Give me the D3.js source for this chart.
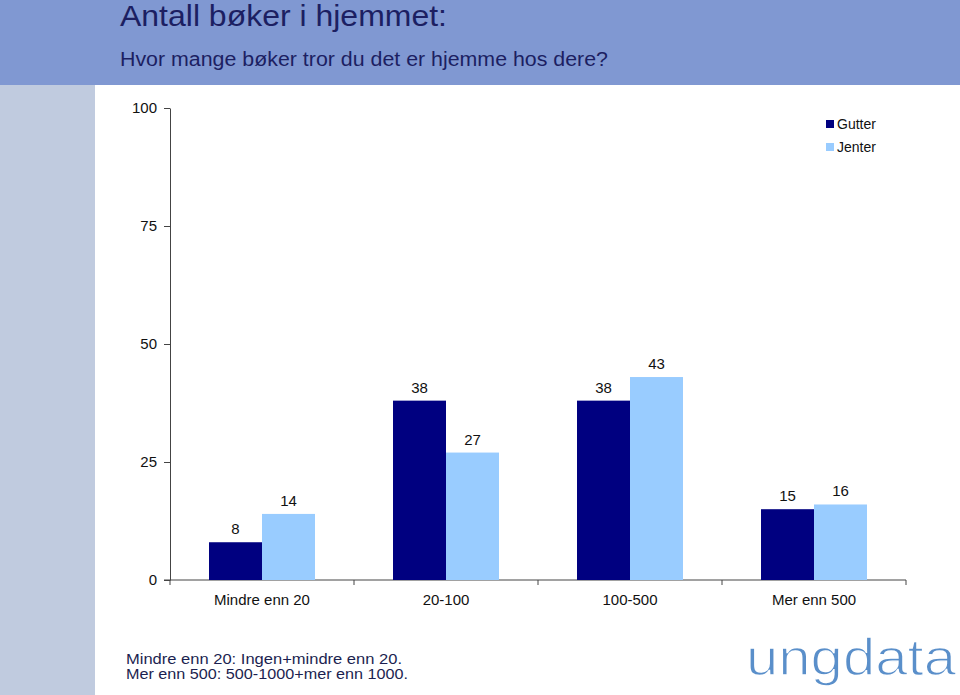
<!DOCTYPE html>
<html lang="no">
<head>
  <meta charset="UTF-8">
  <title>Antall bøker i hjemmet</title>
  <style>
    body { margin: 0; background: #fff; }
    svg { display: block; }
    text { font-family: 'Liberation Sans', Arial, sans-serif; }
    .axis text { font-size: 15px; fill: #111; }
    .axis path, .axis line { stroke: #444; }
  </style>
</head>
<body>
<svg width="960" height="695"></svg>
<script src="https://d3js.org/d3.v7.min.js"></script>
<script>
  // Data
  const categories = ['Mindre enn 20', '20-100', '100-500', 'Mer enn 500'];
  const series = ['Gutter', 'Jenter'];
  const gutter = [8, 38, 38, 15];
  const jenter = [14, 27, 43, 16];
  const yTicks = [0, 25, 50, 75, 100];
  const colors = ['#000080', '#99ccff'];

  const svg = d3.select('svg');
  const W = 960, H = 695;

  // Background bands
  svg.append('rect').attr('x', 0).attr('y', 0).attr('width', W).attr('height', 85).attr('fill', '#8098d2');
  svg.append('rect').attr('x', 0).attr('y', 85).attr('width', 95).attr('height', H - 85).attr('fill', '#c0cbdf');

  // Titles
  svg.append('text')
    .attr('x', 120).attr('y', 26)
    .attr('font-size', 30).attr('fill', '#1c1f62')
    .attr('textLength', 327).attr('lengthAdjust', 'spacingAndGlyphs')
    .text('Antall bøker i hjemmet:');
  svg.append('text')
    .attr('x', 120).attr('y', 66)
    .attr('font-size', 20).attr('fill', '#1c1f62')
    .attr('textLength', 488).attr('lengthAdjust', 'spacingAndGlyphs')
    .text('Hvor mange bøker tror du det er hjemme hos dere?');

  // Scales
  const plot = { left: 170, right: 906, top: 108, bottom: 580 };
  const x = d3.scaleBand().domain(categories).range([plot.left, plot.right])
    .paddingInner(0.424).paddingOuter(0.212);
  const xs = d3.scaleBand().domain(series).range([0, x.bandwidth()]);
  const y = d3.scaleLinear().domain([0, 100]).range([plot.bottom, plot.top]);

  // Y axis
  const yAxis = svg.append('g').attr('class', 'axis')
    .attr('transform', `translate(${plot.left},0)`)
    .call(d3.axisLeft(y).tickValues(yTicks).tickSize(6).tickSizeOuter(0).tickPadding(7));
  yAxis.select('.domain').attr('stroke', '#666');

  // X axis (ticks at group boundaries)
  const xAxis = svg.append('g').attr('class', 'axis')
    .attr('transform', `translate(0,${plot.bottom})`)
    .call(d3.axisBottom(x).tickSize(0).tickSizeOuter(0).tickPadding(14));
  xAxis.select('.domain').remove();
  xAxis.append('line').attr('x1', plot.left - 6).attr('x2', plot.right).attr('y1', 0).attr('y2', 0).attr('stroke', '#444');
  d3.range(categories.length + 1).forEach(i => {
    const bx = plot.left + i * x.step();
    xAxis.append('line').attr('x1', bx).attr('x2', bx).attr('y1', 0).attr('y2', 5).attr('stroke', '#444');
  });

  // Bars
  const rows = categories.map((c, i) => ({ cat: c, vals: [gutter[i], jenter[i]] }));
  const groups = svg.append('g').selectAll('g').data(rows).join('g')
    .attr('transform', d => `translate(${x(d.cat)},0)`);
  groups.selectAll('rect').data(d => d.vals.map((v, j) => ({ s: series[j], v, j }))).join('rect')
    .attr('x', d => xs(d.s)).attr('width', xs.bandwidth())
    .attr('y', d => y(d.v)).attr('height', d => y(0) - y(d.v))
    .attr('fill', d => colors[d.j]);
  groups.selectAll('text.lbl').data(d => d.vals.map((v, j) => ({ s: series[j], v, j }))).join('text')
    .attr('class', 'lbl')
    .attr('x', d => xs(d.s) + xs.bandwidth() / 2)
    .attr('y', d => y(d.v) - 8)
    .attr('text-anchor', 'middle').attr('font-size', 15).attr('fill', '#111')
    .text(d => d.v);

  // Legend
  const legend = svg.append('g').attr('transform', 'translate(826,120)');
  series.forEach((s, i) => {
    legend.append('rect').attr('x', 0).attr('y', i * 23).attr('width', 8).attr('height', 8).attr('fill', colors[i]);
    legend.append('text').attr('x', 11).attr('y', i * 23 + 9).attr('font-size', 14).attr('fill', '#111').text(s);
  });

  // Footnote
  const notes = ['Mindre enn 20: Ingen+mindre enn 20.', 'Mer enn 500: 500-1000+mer enn 1000.'];
  notes.forEach((n, i) => {
    svg.append('text').attr('x', 126).attr('y', 664 + i * 15)
      .attr('font-size', 14).attr('fill', '#1c1f50')
      .attr('textLength', i === 0 ? 276 : 282).attr('lengthAdjust', 'spacingAndGlyphs')
      .text(n);
  });

  // Logo: regular glyphs thinned by a white stroke on top
  const logo = svg.append('g');
  ['fill', 'thin'].forEach(k => {
    logo.append('text').attr('x', 746).attr('y', 675)
      .attr('font-family', "'DejaVu Sans', sans-serif")
      .attr('font-size', 52)
      .attr('fill', k === 'fill' ? '#5a8fca' : 'none')
      .attr('stroke', k === 'fill' ? 'none' : '#fff')
      .attr('stroke-width', k === 'fill' ? 0 : 1.4)
      .attr('textLength', 210).attr('lengthAdjust', 'spacingAndGlyphs')
      .text('ungdata');
  });
</script>
</body>
</html>
